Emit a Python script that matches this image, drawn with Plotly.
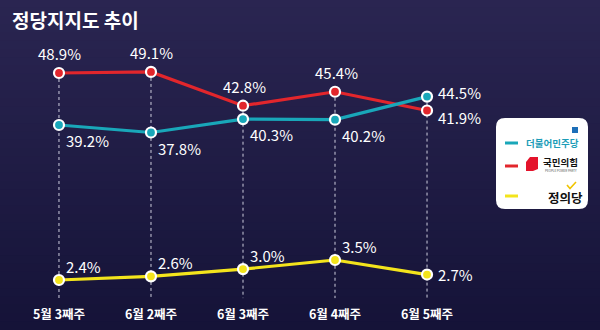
import plotly.graph_objects as go

# Weekly party support (%)
weeks = ["5월 3째주", "6월 2째주", "6월 3째주", "6월 4째주", "6월 5째주"]
democratic = [39.2, 37.8, 40.3, 40.2, 44.5]   # 더불어민주당
ppp = [48.9, 49.1, 42.8, 45.4, 41.9]          # 국민의힘
justice = [2.4, 2.6, 3.0, 3.5, 2.7]           # 정의당

TEAL = "#19a7b9"
RED = "#e2262c"
YELLOW = "#f3e41c"
FONT = "Noto Sans CJK KR"

W, H, B = 600, 330, 30
PLOT_H = H - B

# Two value scales: upper one for the big parties, lower one for 정의당
UPPER_RANGE = [6.55, 62.52]
LOWER_RANGE = [1.3, 17.8]
X_RANGE = [-0.641, 5.88]


def px(x):
    return x / W


def py(y):
    return 1 - y / PLOT_H


fig = go.Figure()

# background: vertical gradient
top = (42, 37, 81)
bot = (21, 19, 56)
n = 40
y0, y1 = -B / PLOT_H, 1.0
for i in range(n):
    t = i / (n - 1)
    c = tuple(round(top[k] + (bot[k] - top[k]) * t) for k in range(3))
    a = y1 - (y1 - y0) * i / n
    b = y1 - (y1 - y0) * (i + 1) / n
    fig.add_shape(type="rect", xref="paper", yref="paper", x0=0, x1=1, y0=b - 0.002, y1=a + 0.002,
                  fillcolor=f"rgb{c}", line_width=0, layer="below")

# dashed guides from the top marker down to the baseline
for i, w in enumerate(weeks):
    top_val = max(democratic[i], ppp[i])
    fig.add_trace(go.Scatter(x=[w, w], y=[top_val, UPPER_RANGE[0] + 0.35], mode="lines",
                             line=dict(color="rgba(225,225,238,0.9)", width=1, dash="3px,3px"),
                             hoverinfo="skip", showlegend=False, yaxis="y"))

marker_line = dict(color="white", width=2.2)


def series(vals, color, axis):
    fig.add_trace(go.Scatter(x=weeks, y=vals, mode="lines+markers",
                             line=dict(color=color, width=3.2),
                             marker=dict(size=10, color=color, line=marker_line),
                             showlegend=False, yaxis=axis))


series(ppp, RED, "y")
series(democratic, TEAL, "y")
series(justice, YELLOW, "y2")

# value labels: placement per point
PLACE = {
    "above": dict(xanchor="center", yanchor="bottom", xshift=1, yshift=7),
    "below_right": dict(xanchor="left", yanchor="top", xshift=5, yshift=-3),
    "above_right": dict(xanchor="left", yanchor="bottom", xshift=5, yshift=1),
    "right": dict(xanchor="left", yanchor="middle", xshift=9, yshift=0),
    "right_up": dict(xanchor="left", yanchor="middle", xshift=9, yshift=4),
    "right_down": dict(xanchor="left", yanchor="middle", xshift=9, yshift=-7),
}
ppp_place = ["above", "above", "above", "above", "right_down"]
dem_place = ["below_right"] * 4 + ["right_up"]
jus_place = ["above_right"] * 4 + ["right"]


def labels(vals, places, axis):
    for w, v, p in zip(weeks, vals, places):
        fig.add_annotation(x=w, y=v, xref="x", yref=axis, text=f"{v:.1f}%", showarrow=False,
                           font=dict(family=FONT, size=15, color="white"), **PLACE[p])


labels(ppp, ppp_place, "y")
labels(democratic, dem_place, "y")
labels(justice, jus_place, "y2")

# title
fig.add_annotation(x=px(10), y=py(20), xref="paper", yref="paper", text="<b>정당지지도 추이</b>",
                   showarrow=False, xanchor="left", yanchor="middle",
                   font=dict(family=FONT, size=19, color="white"))

# legend card
bx0, bx1, by0, by1, r = 496, 588, 118, 209, 9
rx, ry = r / W, r / PLOT_H
X0, X1, Y0, Y1 = px(bx0), px(bx1), py(by0), py(by1)
path = (f"M {X0 + rx},{Y0} L {X1 - rx},{Y0} Q {X1},{Y0} {X1},{Y0 - ry} "
        f"L {X1},{Y1 + ry} Q {X1},{Y1} {X1 - rx},{Y1} L {X0 + rx},{Y1} "
        f"Q {X0},{Y1} {X0},{Y1 + ry} L {X0},{Y0 - ry} Q {X0},{Y0} {X0 + rx},{Y0} Z")
fig.add_shape(type="path", path=path, xref="paper", yref="paper", fillcolor="white", line_width=0)

for yy, col in [(143, TEAL), (166, RED), (196, YELLOW)]:
    fig.add_shape(type="line", xref="paper", yref="paper", x0=px(505), x1=px(518), y0=py(yy), y1=py(yy),
                  line=dict(color=col, width=3))

# 더불어민주당
fig.add_shape(type="rect", xref="paper", yref="paper", x0=px(572), x1=px(578), y0=py(133), y1=py(127),
              fillcolor="#1d6fb8", line_width=0)
fig.add_annotation(x=px(524), y=py(142.5), xref="paper", yref="paper", text="<b>더불어민주당</b>",
                   showarrow=False, xanchor="left", yanchor="middle",
                   font=dict(family=FONT, size=9.5, color="#1c9db8"))

# 국민의힘
logo = [(530, 157), (538, 157), (538, 169), (533, 171), (526, 171), (526, 162)]
p = "M " + " L ".join(f"{px(a)},{py(b)}" for a, b in logo) + " Z"
fig.add_shape(type="path", path=p, xref="paper", yref="paper", fillcolor="#e4132b", line_width=0)
fig.add_annotation(x=px(541), y=py(162), xref="paper", yref="paper", text="<b>국민의힘</b>",
                   showarrow=False, xanchor="left", yanchor="middle",
                   font=dict(family=FONT, size=9.5, color="#111111"))
fig.add_annotation(x=px(543), y=py(171), xref="paper", yref="paper", text="PEOPLE POWER PARTY",
                   showarrow=False, xanchor="left", yanchor="middle",
                   font=dict(family=FONT, size=3, color="#555555"))

# 정의당
fig.add_annotation(x=px(546), y=py(197), xref="paper", yref="paper", text="<b>정의당</b>",
                   showarrow=False, xanchor="left", yanchor="middle",
                   font=dict(family=FONT, size=12.5, color="#111111"))
chk = [(567, 185), (570, 188.5), (576, 182)]
fig.add_shape(type="path", xref="paper", yref="paper",
              path="M " + " L ".join(f"{px(a)},{py(b)}" for a, b in chk),
              line=dict(color="#f0c400", width=1.6))

fig.update_layout(
    width=W, height=H,
    margin=dict(l=0, r=0, t=0, b=B),
    paper_bgcolor="rgb(21,19,56)", plot_bgcolor="rgba(0,0,0,0)",
    xaxis=dict(type="category", range=X_RANGE, showgrid=False, zeroline=False, showline=False,
               ticks="", tickfont=dict(family=FONT, size=12.5, color="white", weight="bold"),
               ticklabelstandoff=5, fixedrange=True),
    yaxis=dict(range=UPPER_RANGE, visible=False, fixedrange=True),
    yaxis2=dict(range=LOWER_RANGE, visible=False, overlaying="y", fixedrange=True),
    font=dict(family=FONT),
)

fig.write_html("out.html")
